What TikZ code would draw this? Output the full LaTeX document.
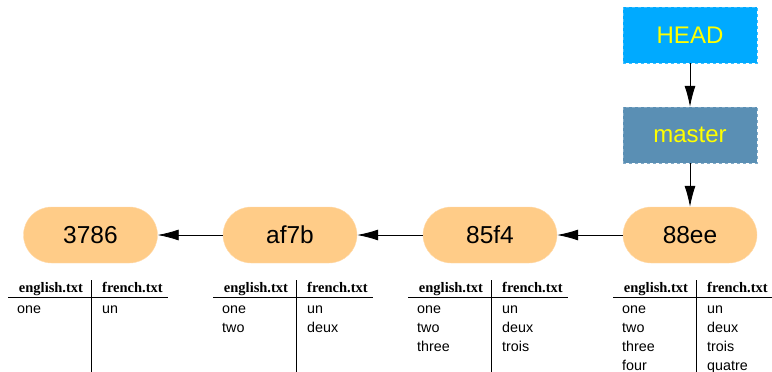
\documentclass[tikz,border=0pt]{standalone}
\usepackage{fontspec}
\setmainfont{Liberation Sans}
\newfontfamily\hdrfont{Liberation Serif}
\usetikzlibrary{arrows.meta}
\definecolor{headblue}{HTML}{00AAFF}
\definecolor{masterblue}{HTML}{5A8FB4}
\definecolor{commitorange}{HTML}{FFCC88}
\definecolor{labelyellow}{HTML}{FFFF00}
\tikzset{
  refbox/.style={minimum width=134pt, minimum height=56pt, inner sep=0pt, text=labelyellow, font=\fontsize{24}{28}\selectfont, dashed, line width=0.4pt},
  commit/.style={rounded corners=28pt, fill=commitorange, draw=commitorange!70!white, minimum width=134pt, minimum height=56pt, inner sep=0pt, font=\fontsize{24.5}{28}\selectfont},
  link/.style={-{Latex[length=21pt,width=11pt]}, line width=0.8pt},
  hdr/.style={inner sep=0pt, anchor=base, font=\hdrfont\bfseries\fontsize{14.5}{17}\selectfont},
  cell/.style={inner sep=0pt, anchor=base west, font=\fontsize{14.3}{17}\selectfont},
  rule/.style={line width=0.8pt}
}
\newcommand{\filetable}[4]{%
  % #1 name, #2 vertical line x, #3 english rows, #4 french rows
  \node[hdr] (#1en) at (#2-40,292) {english.txt};
  \node[hdr] (#1fr) at (#2+41.5,292) {french.txt};
  \draw[rule] (#2-83,297) -- (#2+77,297);
  \draw[rule] (#2,280) -- (#2,372);
  \foreach \w [count=\k from 0] in {#3} {\node[cell] (#1e\k) at (#2-74,313+19*\k) {\w};}
  \foreach \w [count=\k from 0] in {#4} {\node[cell] (#1f\k) at (#2+11,313+19*\k) {\w};}
}
\begin{document}
\begin{tikzpicture}[x=1pt,y=-1pt]
\useasboundingbox (0,0) rectangle (772,372);
\node[refbox, fill=headblue, draw=headblue!75!white] (head) at (690,35) {HEAD};
\node[refbox, fill=masterblue, draw=masterblue!75!white] (master) at (690,135) {master};
\node[commit] (c3786) at (90.5,235) {3786};
\node[commit] (caf7b) at (290,235) {af7b};
\node[commit] (c85f4) at (490,235) {85f4};
\node[commit] (c88ee) at (690,235) {88ee};
\draw[link] (head) -- (master);
\draw[link] (master) -- (c88ee);
\draw[link] (c88ee) -- (c85f4);
\draw[link] (c85f4) -- (caf7b);
\draw[link] (caf7b) -- (c3786);
\filetable{ta}{91}{one}{un}
\filetable{tb}{296}{one,two}{un,deux}
\filetable{tc}{491}{one,two,three}{un,deux,trois}
\filetable{td}{696}{one,two,three,four}{un,deux,trois,quatre}
\end{tikzpicture}
\end{document}
